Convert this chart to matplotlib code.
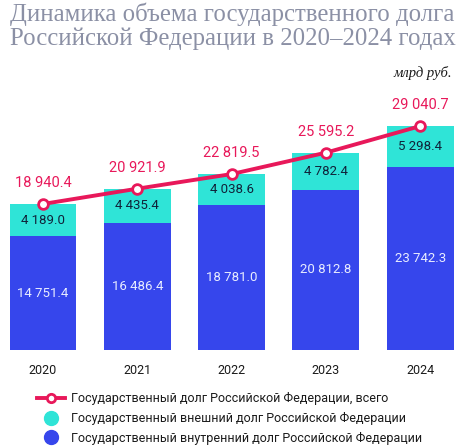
import matplotlib.pyplot as plt
from matplotlib.lines import Line2D
import numpy as np

years = ['2020', '2021', '2022', '2023', '2024']
internal_debt = [14751.4, 16486.4, 18781.0, 20812.8, 23742.3]
external_debt = [4189.0, 4435.4, 4038.6, 4782.4, 5298.4]
total_debt = [18940.4, 20921.9, 22819.5, 25595.2, 29040.7]

label_total = 'Государственный долг Российской Федерации, всего'
label_external = 'Государственный внешний долг Российской Федерации'
label_internal = 'Государственный внутренний долг Российской Федерации'

blue = '#3646EC'
cyan = '#2FE4D7'
red = '#E8185A'

def fmt(v):
    return f'{v:,.1f}'.replace(',', ' ')

plt.rcParams['font.family'] = ['Roboto', 'DejaVu Sans']

fig = plt.figure(figsize=(4.74, 4.46), dpi=100)
ax = fig.add_axes([0.6 / 474, 96 / 446, 462 / 474, 240 / 446])

x = np.arange(len(years))
ax.bar(x, internal_debt, width=0.71, color=blue)
ax.bar(x, external_debt, width=0.71, bottom=internal_debt, color=cyan)
ax.plot(x, total_debt, color=red, lw=2.8, marker='o', ms=7,
        mfc='white', mec=red, mew=2, zorder=5)

for i in range(len(years)):
    ax.text(x[i], internal_debt[i] / 2, fmt(internal_debt[i]), ha='center', va='center',
            color='#e8ecff', fontsize=9.5)
    ax.text(x[i], internal_debt[i] + external_debt[i] / 2, fmt(external_debt[i]),
            ha='center', va='center', color='#10233a', fontsize=9.5)
    ax.annotate(fmt(total_debt[i]), (x[i], total_debt[i]), xytext=(0, 15),
                textcoords='offset points', ha='center', va='center',
                color=red, fontsize=10.5)

ax.set_xlim(-0.45, 4.45)
ax.set_ylim(0, 31130)
ax.set_xticks(x)
ax.set_xticklabels(years, fontsize=9, color='#1a1a1a')
ax.tick_params(axis='x', length=0, pad=10)
ax.set_yticks([])
for s in ax.spines.values():
    s.set_visible(False)

fig.text(10 / 474, 1 - 3 / 446,
         'Динамика объема государственного долга\nРоссийской Федерации в 2020–2024 годах',
         family='Liberation Serif', fontsize=17.8, color='#8b90a5', va='top', ha='left',
         linespacing=1.05)
fig.text(452 / 474, 1 - 73 / 446, 'млрд руб.', family='Liberation Serif', style='italic',
         fontsize=10.5, color='#1a1a1a', ha='right', va='center')

handles = [
    Line2D([], [], color=red, lw=2.8, marker='o', ms=6, mfc='white', mec=red, mew=2),
    Line2D([], [], ls='none', marker='o', ms=10, color=cyan),
    Line2D([], [], ls='none', marker='o', ms=10, color=blue),
]
fig.legend(handles, [label_total, label_external, label_internal],
           loc='upper left', bbox_to_anchor=(32 / 474, 1 - 387 / 446), frameon=False,
           fontsize=9, handlelength=2.2, handletextpad=0.5, labelspacing=0.55,
           labelcolor='#1a1a1a', borderaxespad=0)

plt.savefig('out.png', dpi=100)
